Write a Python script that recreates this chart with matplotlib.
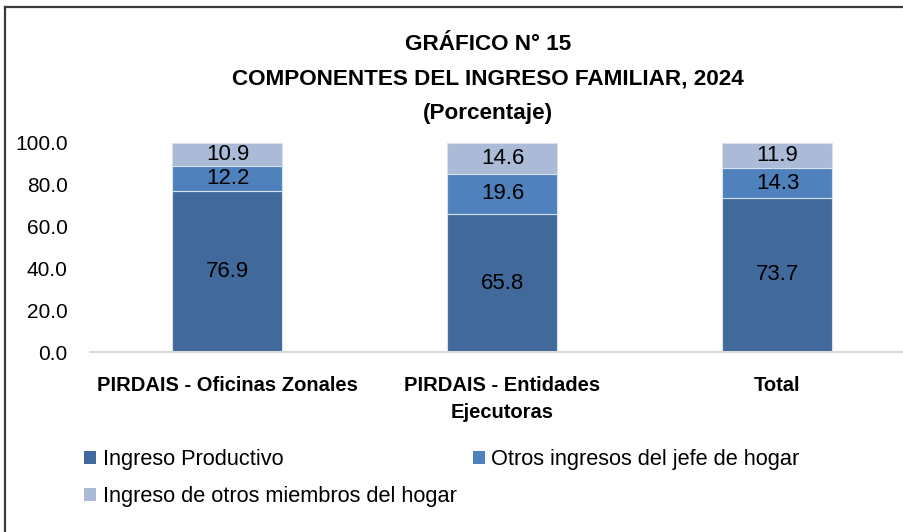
import matplotlib
matplotlib.use("Agg")
from matplotlib import pyplot as plt
from matplotlib.lines import Line2D

plt.rcParams['font.family'] = ['Liberation Sans', 'DejaVu Sans']

categories = ["PIRDAIS - Oficinas Zonales", "PIRDAIS - Entidades\nEjecutoras", "Total"]
series_names = ["Ingreso Productivo", "Otros ingresos del jefe de hogar",
                "Ingreso de otros miembros del hogar"]
productivo = [76.9, 65.8, 73.7]
otros_jefe = [12.2, 19.6, 14.3]
otros_miembros = [10.9, 14.6, 11.9]
yticks = [0, 20, 40, 60, 80, 100]

colors = ["#41699B", "#4F81BD", "#AABAD7"]

fig = plt.figure(figsize=(9.04, 5.32), dpi=100)
ax = fig.add_axes([90 / 904, 1 - 352 / 532, 1 - 90 / 904, 209 / 532])

x = list(range(len(categories)))
series = [productivo, otros_jefe, otros_miembros]
bottoms = [0.0] * len(categories)
bars = []
for vals, col, name in zip(series, colors, series_names):
    b = ax.bar(x, vals, width=0.4, bottom=bottoms, color=col,
               edgecolor="#D9E1EE", linewidth=0.8, label=name, zorder=2)
    bars.append(b)
    for xi, v, bt in zip(x, vals, bottoms):
        ax.text(xi, bt + v / 2, "{:.1f}".format(v), ha="center", va="center",
                fontsize=16, color="black", zorder=3)
    bottoms = [bt + v for bt, v in zip(bottoms, vals)]

ax.set_xlim(-0.5, 2.46)
ax.set_ylim(0, 100)
ax.set_yticks(yticks)
ax.set_yticklabels(["{:.1f}".format(t) for t in yticks], fontsize=15)
ax.set_xticks(x)
ax.set_xticklabels(categories, fontsize=14.5, fontweight="bold", linespacing=1.55)
ax.tick_params(axis="y", length=0, pad=16)
ax.tick_params(axis="x", length=0, pad=17)
for s in ["top", "right", "left"]:
    ax.spines[s].set_visible(False)
ax.spines["bottom"].set_color("#D9D9D9")
ax.spines["bottom"].set_linewidth(1.5)

# title
tx = 488 / 904
fig.text(tx, 1 - 45 / 532, "GRÁFICO N° 15", ha="center", va="center",
         fontsize=16.2, fontweight="bold")
fig.text(tx, 1 - 79 / 532, "COMPONENTES DEL INGRESO FAMILIAR, 2024", ha="center",
         va="center", fontsize=16.2, fontweight="bold")
fig.text(tx, 1 - 113 / 532, "(Porcentaje)", ha="center", va="center",
         fontsize=16.2, fontweight="bold")

# legend, row-wise order
handles = [bars[0], bars[2], bars[1]]
labels = [series_names[0], series_names[2], series_names[1]]
leg = fig.legend(handles, labels, ncol=2, loc="upper left",
                 bbox_to_anchor=(84 / 904, 1 - 449 / 532), frameon=False,
                 fontsize=15.7, handlelength=0.55, handleheight=0.55,
                 handletextpad=0.3, columnspacing=0.75, labelspacing=0.75,
                 borderpad=0, borderaxespad=0)
for h in leg.legend_handles:
    h.set_edgecolor("none")

# outer frame
fig.add_artist(Line2D([5 / 904, 5 / 904], [0, 1 - 7 / 532], transform=fig.transFigure,
                      color="#3A3A3A", linewidth=1.6))
fig.add_artist(Line2D([5 / 904, 1], [1 - 7 / 532, 1 - 7 / 532], transform=fig.transFigure,
                      color="#3A3A3A", linewidth=1.6))

fig.savefig("out.png", dpi=100)
